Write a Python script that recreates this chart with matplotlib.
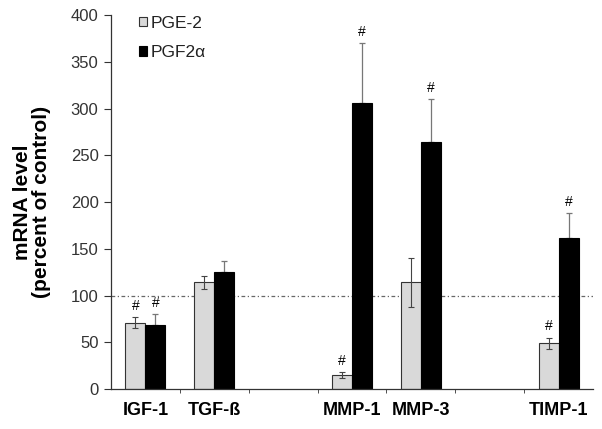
import matplotlib
matplotlib.use("Agg")
import matplotlib.pyplot as plt
import numpy as np

plt.rcParams['font.family'] = ['Liberation Sans', 'DejaVu Sans']

categories = ['IGF-1', 'TGF-ß', 'MMP-1', 'MMP-3', 'TIMP-1']
pge2 = [71, 114, 15, 114, 49]
pge2_err = [6, 6.5, 3, 26, 6]
pgf2a = [68.5, 125, 306, 264, 161]
pgf2a_err = [12, 12, 64, 46, 27]
sig_pge2 = [True, False, True, False, True]
sig_pgf2a = [True, False, True, True, True]
yticks = [0, 50, 100, 150, 200, 250, 300, 350, 400]

slots = np.array([0, 1, 3, 4, 6])
w = 0.29

fig = plt.figure(figsize=(6.02, 4.29), dpi=100)
ax = fig.add_axes([0.1844, 0.0932, 0.8006, 0.8718])

ax.axhline(100, color='#666666', lw=0.9, ls=(0, (3, 2, 1, 2)), zorder=1)

ax.bar(slots - w / 2, pge2, width=w, color='#d9d9d9', edgecolor='#333333', lw=0.8,
       label='PGE-2', zorder=2)
ax.bar(slots + w / 2, pgf2a, width=w, color='black', edgecolor='black', lw=0.8,
       label='PGF2α', zorder=2)
ax.errorbar(slots - w / 2, pge2, yerr=pge2_err, fmt='none', ecolor='#444444',
            elinewidth=0.8, capsize=2, capthick=0.8, zorder=3)
ax.errorbar(slots + w / 2, pgf2a, yerr=[np.zeros(len(pgf2a)), pgf2a_err], fmt='none',
            ecolor='#777777', elinewidth=0.9, capsize=2, capthick=0.9, zorder=1.5)

for i, s in enumerate(slots):
    if sig_pge2[i]:
        ax.annotate('#', (s - w / 2, pge2[i] + pge2_err[i]), xytext=(0, 3),
                    textcoords='offset points', ha='center', va='bottom', fontsize=10)
    if sig_pgf2a[i]:
        ax.annotate('#', (s + w / 2, pgf2a[i] + pgf2a_err[i]), xytext=(0, 3),
                    textcoords='offset points', ha='center', va='bottom', fontsize=10)

ax.set_xlim(-0.5, 6.5)
ax.set_ylim(0, 400)
ax.set_yticks(yticks)
ax.tick_params(axis='y', direction='out', length=5, width=0.8, labelsize=12,
               labelcolor='#333333', color='#333333', pad=4)
ax.set_xticks(slots)
ax.set_xticklabels(categories, fontsize=13, fontweight='bold')
ax.tick_params(axis='x', length=0, pad=9)
ax.set_xticks(np.arange(0.5, 6.0, 1.0), minor=True)
ax.tick_params(axis='x', which='minor', length=3, direction='out', color='#333333')

for side in ['top', 'right']:
    ax.spines[side].set_visible(False)
for side in ['left', 'bottom']:
    ax.spines[side].set_color('#333333')
    ax.spines[side].set_linewidth(0.9)

ax.set_ylabel('mRNA level\n(percent of control)', fontsize=15, fontweight='bold',
              linespacing=1.0, labelpad=14)

leg = ax.legend(loc='upper left', bbox_to_anchor=(0.025, 1.04), frameon=False,
                fontsize=12.5, handlelength=0.5, handleheight=0.5, handletextpad=0.2,
                labelspacing=0.85, labelcolor='#222222')

fig.savefig('out.png', dpi=100)
